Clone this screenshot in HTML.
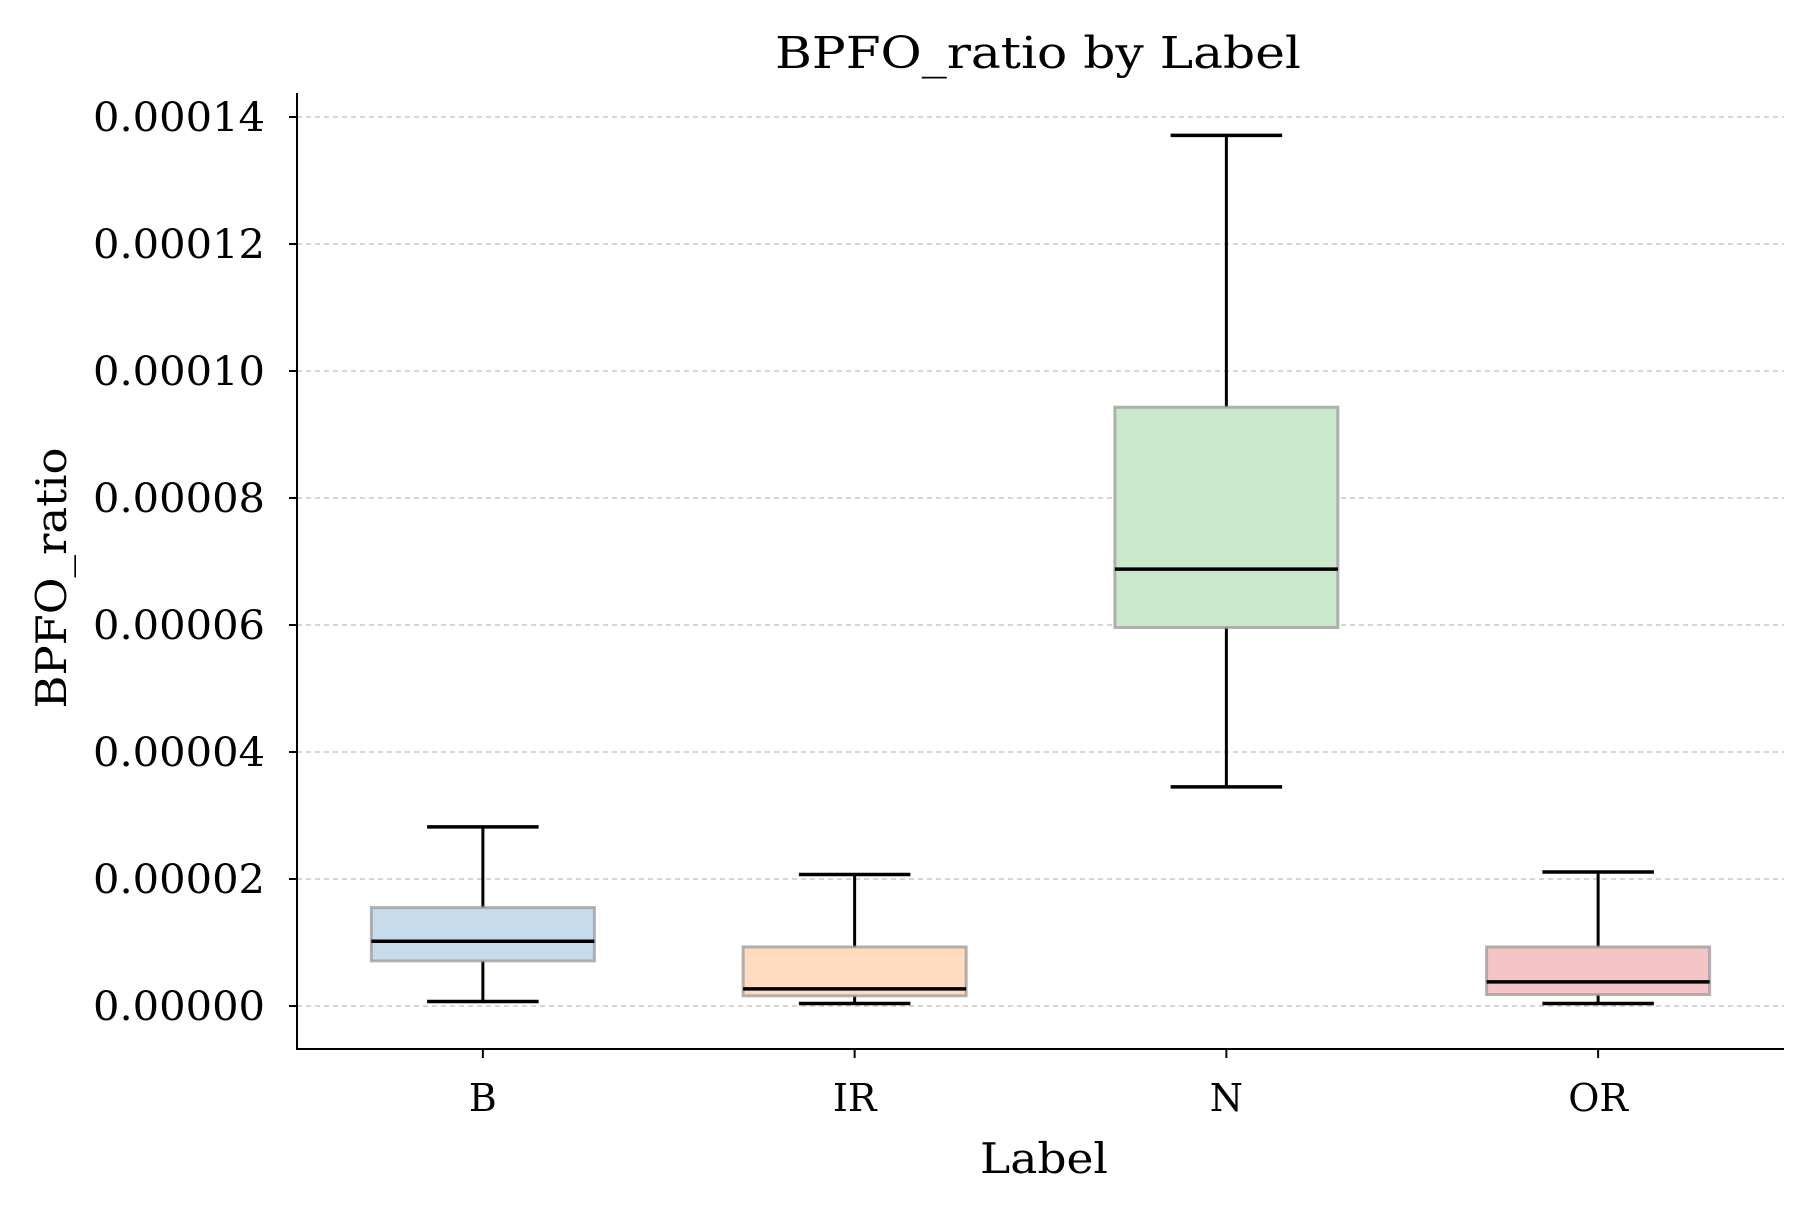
<!DOCTYPE html>
<html><head><meta charset="utf-8"><style>
html,body{margin:0;padding:0;background:#fff}
svg text{font-family:"DejaVu Serif","Liberation Serif",serif;fill:#000}
</style></head><body>
<svg id="chart" width="1811" height="1212" xmlns="http://www.w3.org/2000/svg">
<text x="1038" y="68" font-size="44" text-anchor="middle" textLength="526" lengthAdjust="spacingAndGlyphs">BPFO_ratio by Label</text>
<g id="grid"></g><g id="boxes"></g><g id="axes"></g>
<text x="1044" y="1173" font-size="42" text-anchor="middle" textLength="128" lengthAdjust="spacingAndGlyphs">Label</text>
<text transform="translate(66,578) rotate(-90)" font-size="42" text-anchor="middle" textLength="261" lengthAdjust="spacingAndGlyphs">BPFO_ratio</text>
</svg>
<script>
const categories=["B","IR","N","OR"];
const whiskerLow=[0.07e-5,0.04e-5,3.45e-5,0.04e-5];
const q1=[0.71e-5,0.16e-5,5.96e-5,0.18e-5];
const median=[1.02e-5,0.27e-5,6.88e-5,0.38e-5];
const q3=[1.55e-5,0.93e-5,9.43e-5,0.93e-5];
const whiskerHigh=[2.82e-5,2.07e-5,13.71e-5,2.11e-5];
const yTicks=[0,2e-5,4e-5,6e-5,8e-5,10e-5,12e-5,14e-5];
const yTickLabels=["0.00000","0.00002","0.00004","0.00006","0.00008","0.00010","0.00012","0.00014"];
const fills=["#c6dbec","#ffdcbf","#cae8ca","#f4c4c7"];
const L=297,R=1784,T=93,B=1049;
const y0=1006,yPer=127/2e-5;
function y(v){return y0-v*yPer;}
function x(i){return L+(i+0.5)*(R-L)/categories.length;}
const unit=(R-L)/categories.length;
const NS="http://www.w3.org/2000/svg";
function mk(parent,tag,attrs){const e=document.createElementNS(NS,tag);for(const k in attrs)e.setAttribute(k,attrs[k]);document.getElementById(parent).appendChild(e);return e;}
yTicks.forEach((t,i)=>{
 const g=mk('grid','line',{x1:L,x2:R,y1:y(t),y2:y(t),stroke:'#c8c8c8','stroke-width':1.5,'stroke-dasharray':'5,4'});
 
 
 const tk=mk('axes','line',{x1:L-8,x2:L,y1:y(t),y2:y(t),stroke:'#000','stroke-width':2});
 
 
 const tx=mk('axes','text',{x:L-32,y:y(t)+14,'font-size':40,'text-anchor':'end',textLength:172,lengthAdjust:'spacingAndGlyphs'});
 tx.textContent=yTickLabels[i];
 
 
});
categories.forEach((c,i)=>{
 const cx=x(i),bw=unit*0.6,cw=unit*0.3;
 const wl=mk('boxes','line',{x1:cx,x2:cx,y1:y(whiskerLow[i]),y2:y(q1[i]),stroke:'#000','stroke-width':3});
 
 
 const wh=mk('boxes','line',{x1:cx,x2:cx,y1:y(whiskerHigh[i]),y2:y(q3[i]),stroke:'#000','stroke-width':3});
 
 
 const cl=mk('boxes','line',{x1:cx-cw/2,x2:cx+cw/2,y1:y(whiskerLow[i]),y2:y(whiskerLow[i]),stroke:'#000','stroke-width':3.5});
 
 
 const ch=mk('boxes','line',{x1:cx-cw/2,x2:cx+cw/2,y1:y(whiskerHigh[i]),y2:y(whiskerHigh[i]),stroke:'#000','stroke-width':3.5});
 
 
 const bx=mk('boxes','rect',{x:cx-bw/2,y:y(q3[i]),width:bw,height:y(q1[i])-y(q3[i]),fill:fills[i],stroke:'#999','stroke-opacity':0.75,'stroke-width':3});
 
 
 const md=mk('boxes','line',{x1:cx-bw/2,x2:cx+bw/2,y1:y(median[i]),y2:y(median[i]),stroke:'#000','stroke-width':3.5});
 
 
 const tk=mk('axes','line',{x1:cx,x2:cx,y1:B,y2:B+9,stroke:'#000','stroke-width':2});
 
 
 const tx=mk('axes','text',{x:cx,y:B+62,'font-size':38,'text-anchor':'middle'});
 tx.textContent=c;
 
 
});
const ya=mk('axes','line',{x1:L,x2:L,y1:T,y2:B+1,stroke:'#000','stroke-width':2});


const xa=mk('axes','line',{x1:L-1,x2:R,y1:B,y2:B,stroke:'#000','stroke-width':2});


</script>
</body></html>
